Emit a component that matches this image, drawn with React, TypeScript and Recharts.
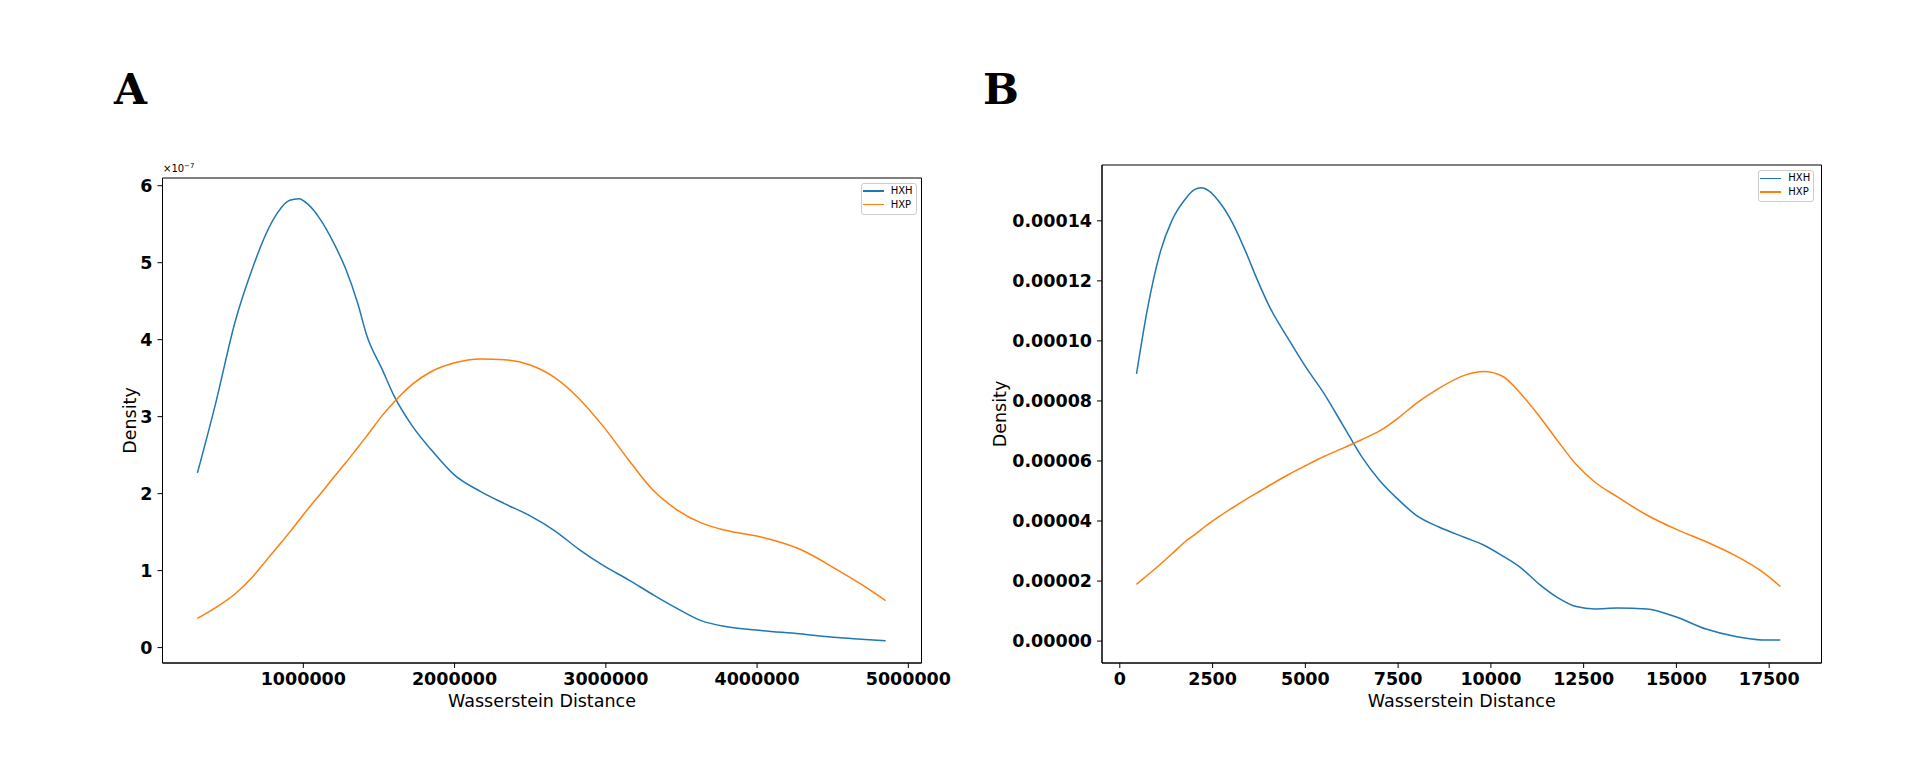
import React from 'react';
import { LineChart, Line, XAxis, YAxis, Legend, ReferenceArea } from 'recharts';

// panel A: distances and densities (x 1e-7)
const aDistance = [300000, 420000, 550000, 670000, 750000, 830000, 910000, 970000, 1030000, 1110000, 1200000, 1280000, 1360000, 1420000, 1520000, 1600000, 1720000, 1850000, 2000000, 2170000, 2330000, 2500000, 2660000, 2820000, 2980000, 3150000, 3310000, 3470000, 3630000, 3800000, 4040000, 4280000, 4530000, 4690000, 4850000];
const aHXH = [2.27, 3.17, 4.24, 4.96, 5.36, 5.65, 5.81, 5.83, 5.76, 5.57, 5.26, 4.92, 4.47, 4.05, 3.62, 3.27, 2.88, 2.56, 2.24, 2.03, 1.87, 1.71, 1.52, 1.28, 1.07, 0.88, 0.69, 0.51, 0.35, 0.27, 0.22, 0.18, 0.13, 0.11, 0.09];
const aHXP = [0.38, 0.52, 0.7, 0.93, 1.12, 1.31, 1.5, 1.65, 1.8, 1.99, 2.21, 2.4, 2.6, 2.75, 3.01, 3.19, 3.42, 3.59, 3.7, 3.75, 3.74, 3.67, 3.51, 3.24, 2.88, 2.44, 2.05, 1.79, 1.62, 1.52, 1.43, 1.28, 1.01, 0.82, 0.61];
const aXTicks = [1000000, 2000000, 3000000, 4000000, 5000000];
const aYTicks = [0, 1, 2, 3, 4, 5, 6];

// panel B
const bDistance = [450, 750, 1100, 1400, 1750, 2000, 2200, 2400, 2700, 3050, 3400, 3700, 4050, 4550, 5000, 5500, 6000, 6500, 7000, 7500, 8000, 8600, 9300, 9800, 10300, 10800, 11300, 11800, 12300, 12800, 13400, 14200, 15000, 15800, 16600, 17300, 17800];
const bHXH = [8.9e-5, 11.1e-5, 13.0e-5, 14.0e-5, 14.7e-5, 15.03e-5, 15.1e-5, 15.0e-5, 14.6e-5, 13.9e-5, 12.95e-5, 12.05e-5, 11.1e-5, 10.05e-5, 9.15e-5, 8.25e-5, 7.22e-5, 6.18e-5, 5.35e-5, 4.72e-5, 4.18e-5, 3.8e-5, 3.45e-5, 3.2e-5, 2.85e-5, 2.45e-5, 1.9e-5, 1.45e-5, 1.15e-5, 1.07e-5, 1.1e-5, 1.07e-5, 0.8e-5, 0.4e-5, 0.15e-5, 0.04e-5, 0.04e-5];
const bHXP = [1.89e-5, 2.2e-5, 2.57e-5, 2.9e-5, 3.3e-5, 3.53e-5, 3.72e-5, 3.91e-5, 4.17e-5, 4.45e-5, 4.72e-5, 4.94e-5, 5.2e-5, 5.55e-5, 5.84e-5, 6.15e-5, 6.42e-5, 6.7e-5, 7.0e-5, 7.43e-5, 7.93e-5, 8.42e-5, 8.86e-5, 8.98e-5, 8.83e-5, 8.25e-5, 7.5e-5, 6.67e-5, 5.88e-5, 5.3e-5, 4.81e-5, 4.2e-5, 3.72e-5, 3.31e-5, 2.84e-5, 2.32e-5, 1.82e-5];
const bXTicks = [0, 2500, 5000, 7500, 10000, 12500, 15000, 17500];
const bYTicks = [0, 0.00002, 0.00004, 0.00006, 0.00008, 0.0001, 0.00012, 0.00014];

const seriesNames = ['HXH', 'HXP'];
const colors = ['#1f77b4', '#ff7f0e'];

const tickStyle = { fill: '#000', fontSize: 17.5, fontWeight: 'bold', fontFamily: 'DejaVu Sans' };
const labelStyle = { fill: '#000', fontSize: 17.5, fontFamily: 'DejaVu Sans', textAnchor: 'middle' as const };

const LegendBox = () => (
  <div style={{ width: 56, height: 32, boxSizing: 'border-box', border: '1px solid #cccccc', borderRadius: 3, background: '#fff', paddingTop: 0.5, fontFamily: 'DejaVu Sans', fontSize: 10, color: '#000' }}>
    {seriesNames.map((s, i) => (
      <div key={s} style={{ display: 'flex', alignItems: 'center', height: 13.7 }}>
        <div style={{ marginLeft: 1, width: 21, height: 1.5, background: colors[i] }} />
        <span style={{ marginLeft: 7, lineHeight: '10px' }}>{s}</span>
      </div>
    ))}
  </div>
);

interface PanelProps {
  data: any[];
  left: number;
  width: number;
  margin: { top: number; right: number; left: number; bottom: number };
  yWidth: number;
  yLabelOffset: number;
  xDomain: [number, number];
  yDomain: [number, number];
  xTicks: number[];
  yTicks: number[];
  yFormat: (v: number) => string;
  legendPos: { left: number; top: number };
}

const Panel: React.FC<PanelProps> = (p) => (
  <div style={{ position: 'absolute', left: p.left, top: 100 }}>
    <LineChart width={p.width} height={664} data={p.data} margin={p.margin}>
      <XAxis
        dataKey="distance"
        type="number"
        domain={p.xDomain}
        ticks={p.xTicks}
        interval={0}
        allowDataOverflow
        height={50}
        tick={tickStyle}
        tickSize={5}
        tickMargin={5}
        stroke="#000"
        label={{ value: 'Wasserstein Distance', position: 'insideBottom', offset: 6, style: labelStyle }}
      />
      <YAxis
        type="number"
        domain={p.yDomain}
        ticks={p.yTicks}
        interval={0}
        allowDataOverflow
        width={p.yWidth}
        tick={tickStyle}
        tickSize={5}
        tickMargin={5}
        tickFormatter={p.yFormat}
        stroke="#000"
        label={{ value: 'Density', angle: -90, position: 'insideLeft', offset: p.yLabelOffset, style: labelStyle }}
      />
      <ReferenceArea x1={p.xDomain[0]} x2={p.xDomain[1]} y1={p.yDomain[0]} y2={p.yDomain[1]} fill="none" stroke="#000" strokeWidth={1} />
      {seriesNames.map((s, i) => (
        <Line key={s} dataKey={s} type="monotone" stroke={colors[i]} strokeWidth={1.5} dot={false} isAnimationActive={false} />
      ))}
      <Legend
        layout="vertical"
        align="center"
        verticalAlign="middle"
        content={() => <LegendBox />}
        wrapperStyle={{ left: p.legendPos.left, top: p.legendPos.top, width: 56, right: 'auto', bottom: 'auto' }}
      />
    </LineChart>
  </div>
);

export default function App() {
  const dataA = aDistance.map((d, i) => ({ distance: d, HXH: aHXH[i], HXP: aHXP[i] }));
  const dataB = bDistance.map((d, i) => ({ distance: d, HXH: bHXH[i], HXP: bHXP[i] }));

  return (
    <div style={{ position: 'absolute', left: 0, top: 0, width: 1932, height: 764, background: '#fff', fontFamily: 'DejaVu Sans' }}>
      <svg width={1932} height={764} style={{ position: 'absolute', left: 0, top: 0 }}>
        <text x={114} y={104} fontFamily="DejaVu Serif" fontWeight="bold" fontSize={42.5} fill="#000">A</text>
        <text x={983} y={104} fontFamily="DejaVu Serif" fontWeight="bold" fontSize={42.5} fill="#000">B</text>
        <text x={163} y={172} fontFamily="DejaVu Sans" fontSize={10} fill="#000">
          ×10<tspan dy={-4} fontSize={7}>−7</tspan>
        </text>
      </svg>
      <Panel
        data={dataA}
        left={0}
        width={958}
        margin={{ top: 78, right: 36.5, left: 92.5, bottom: 51 }}
        yWidth={70}
        yLabelOffset={37.5}
        xDomain={[69000, 5087000]}
        yDomain={[-0.2, 6.1]}
        xTicks={aXTicks}
        yTicks={aYTicks}
        yFormat={(v) => String(v)}
        legendPos={{ left: 860.7, top: 82.7 }}
      />
      <Panel
        data={dataB}
        left={960}
        width={972}
        margin={{ top: 65, right: 110.5, left: 22, bottom: 51 }}
        yWidth={120}
        yLabelOffset={17.5}
        xDomain={[-480, 18910]}
        yDomain={[-0.0000073, 0.0001586]}
        xTicks={bXTicks}
        yTicks={bYTicks}
        yFormat={(v) => v.toFixed(5)}
        legendPos={{ left: 798.3, top: 70 }}
      />
    </div>
  );
}
